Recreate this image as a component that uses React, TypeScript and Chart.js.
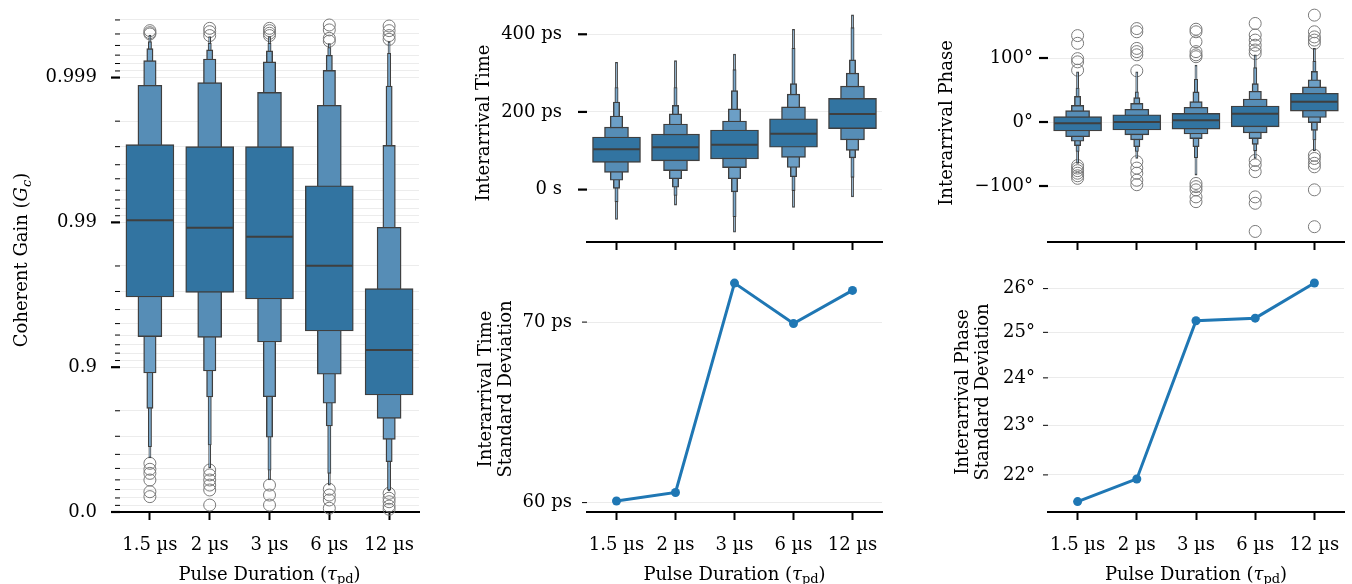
import React, { useEffect, useRef } from 'react';
import { Chart, registerables } from 'chart.js';

Chart.register(...registerables);

const FONT_FAMILY = '"DejaVu Serif", serif';
const FS = 18;
Chart.defaults.font.family = FONT_FAMILY;

// ---------------- data ----------------
const categories = ['1.5 µs', '2 µs', '3 µs', '6 µs', '12 µs'];

// Coherent gain expressed in "nines": n = -log10(1 - G)
// letter-value boxes, level 1 (widest) first; one [low, high] pair per category
const gainLetterValues: [number, number][][] = [
  [[1.485, 2.537], [1.517, 2.523], [1.471, 2.523], [1.25, 2.253], [0.808, 1.542]],
  [[1.211, 2.947], [1.206, 2.965], [1.174, 2.898], [0.951, 2.809], [0.647, 1.966]],
  [[0.96, 3.117], [0.974, 3.128], [0.796, 3.108], [0.751, 3.05], [0.502, 2.532]],
  [[0.716, 3.2], [0.794, 3.191], [0.516, 3.184], [0.594, 3.154], [0.347, 2.942]],
  [[0.451, 3.248], [0.463, 3.237], [0.288, 3.237], [0.267, 3.207], [0.152, 3.168]],
  [[0.373, 3.294], [0.304, 3.283], [0.221, 3.283], [0.186, 3.235], [0.145, 3.248]],
];
const gainMedians = [2.015, 1.963, 1.901, 1.701, 1.119];
const gainOutliers = [
  [3.324, 3.31, 3.301, 0.336, 0.295, 0.267, 0.221, 0.14, 0.106],
  [3.34, 3.317, 3.29, 0.29, 0.256, 0.221, 0.186, 0.152, 0.048],
  [3.34, 3.324, 3.306, 3.29, 0.186, 0.117, 0.048],
  [3.363, 3.329, 3.271, 3.252, 0.157, 0.117, 0.083, 0.026],
  [3.356, 3.324, 3.29, 3.264, 0.129, 0.095, 0.071, 0.041, 0.019],
];
const gainMajorTicks = [0, 1, 2, 3];
const gainTickLabels = ['0.0', '0.9', '0.99', '0.999'];

// Interarrival time (ps)
const timeLetterValues: [number, number][][] = [
  [[70, 135.5], [74, 143], [79, 153.5], [109, 182.5], [157, 235]],
  [[44.5, 161], [49, 169], [56.6, 176.6], [83, 213], [128, 266.6]],
  [[24, 189.5], [28, 195], [28, 208], [57, 246], [101, 300]],
  [[3.3, 225.5], [6, 217], [-6, 255], [33, 273], [81.5, 334]],
  [[-31.6, 263], [-15, 263], [-70, 309], [-2.6, 364], [31.6, 417]],
  [[-77, 328], [-40, 332], [-110, 349], [-46, 413], [-19, 450]],
];
const timeMedians = [103.6, 109, 115.7, 144, 194.6];
const timeTicks = [0, 200, 400];
const timeTickLabels = ['0 s', '200 ps', '400 ps'];

// Interarrival phase (degrees)
const phaseLetterValues: [number, number][][] = [
  [[-14, 8.3], [-12.5, 11.4], [-11, 13.5], [-7.5, 25], [17, 45]],
  [[-23, 17.7], [-20, 20], [-18.7, 23], [-17, 36], [7, 55]],
  [[-30, 26], [-28, 29], [-26, 31.8], [-26, 48], [-1, 66]],
  [[-37, 40], [-38.6, 38], [-38.6, 47], [-35, 60], [-13, 79]],
  [[-46, 53], [-46, 47], [-55.7, 66.7], [-45, 85], [-28, 95]],
  [[-64.6, 78.6], [-57, 78.6], [-83, 89], [-57, 105], [-45, 115]],
];
const phaseMedians = [-2, 0, 2.6, 13, 31.6];
const phaseOutliers = [
  [135, 123, 99, 94, 81, -68, -72, -76, -80, -84, -88],
  [146, 141, 115, 110, 105, 80, -62, -72, -80, -91, -98],
  [145, 141, 125.5, 110, 105, 102, -96, -101, -106, -117, -124.5],
  [154, 136, 128, 120, 112.5, 107, -60, -67, -77.6, -117, -127, -171],
  [167, 141, 133, 128, 123, -52, -57, -64.5, -70, -106, -163.6],
];
const phaseTicks = [-100, 0, 100];
const phaseTickLabels = ['−100°', '0°', '100°'];

// Standard deviations
const timeStd = [60.08, 60.52, 72.37, 69.91, 71.92];
const timeStdTicks = [60, 70];
const timeStdTickLabels = ['60 ps', '70 ps'];
const phaseStd = [21.48, 21.92, 25.26, 25.32, 26.13];
const phaseStdTicks = [22, 23, 24, 25, 26];
const phaseStdTickLabels = ['22°', '23°', '24°', '25°', '26°'];

// ---------------- styling ----------------
const BOX_WIDTHS = [48, 24, 12.5, 6.3, 3.3, 2.2];
const BOX_FILLS = ['#3274a1', '#568db6', '#6c9fc6', '#74a5ca', '#7aa9cd', '#7eacd0'];
const EDGE = '#3f3f3f';
const LINE_BLUE = '#1f77b4';

type Seg = { t: string; italic?: boolean; sub?: boolean };

function drawRich(ctx: CanvasRenderingContext2D, segs: Seg[], x: number, y: number, rotated: boolean) {
  ctx.save();
  ctx.translate(x, y);
  if (rotated) ctx.rotate(-Math.PI / 2);
  const fontFor = (s: Seg) => `${s.italic ? 'italic ' : ''}${s.sub ? Math.round(FS * 0.7) : FS}px ${FONT_FAMILY}`;
  let total = 0;
  for (const s of segs) {
    ctx.font = fontFor(s);
    total += ctx.measureText(s.t).width;
  }
  let cx = -total / 2;
  ctx.textAlign = 'left';
  ctx.textBaseline = 'alphabetic';
  ctx.fillStyle = '#000';
  for (const s of segs) {
    ctx.font = fontFor(s);
    ctx.fillText(s.t, cx, s.sub ? FS * 0.22 : 0);
    cx += ctx.measureText(s.t).width;
  }
  ctx.restore();
}

const pulseTitle: Seg[] = [{ t: 'Pulse Duration (' }, { t: 'τ', italic: true }, { t: 'pd', sub: true }, { t: ')' }];
const gainTitle: Seg[] = [{ t: 'Coherent Gain (' }, { t: 'G', italic: true }, { t: 'c', italic: true, sub: true }, { t: ')' }];

type TickMark = { value: number; len: number; width: number };

type Geo = {
  left: number; top: number; width: number; height: number;
  yW: number; xH: number; padTop: number; padRight: number;
};

function overlayPlugin(o: {
  marks: TickMark[];
  yTitle: Seg[][];
  yTitleX: number[];
  yTitleShift?: number;
  xTitleY?: number;
  spineExtend?: number;
}) {
  return {
    id: 'overlay',
    afterDraw(chart: any) {
      const { ctx, chartArea, scales } = chart;
      const ys = scales.y;
      ctx.save();
      ctx.strokeStyle = '#000';
      for (const m of o.marks) {
        const py = ys.getPixelForValue(m.value);
        ctx.lineWidth = m.width;
        ctx.beginPath();
        ctx.moveTo(chartArea.left - m.len, py);
        ctx.lineTo(chartArea.left, py);
        ctx.stroke();
      }
      if (o.spineExtend) {
        ctx.lineWidth = 2;
        ctx.beginPath();
        ctx.moveTo(chartArea.left - o.spineExtend, chartArea.bottom);
        ctx.lineTo(chartArea.left, chartArea.bottom);
        ctx.stroke();
      }
      ctx.restore();
      const cy = (chartArea.top + chartArea.bottom) / 2 + (o.yTitleShift || 0);
      o.yTitle.forEach((line, i) => drawRich(ctx, line, o.yTitleX[i], cy, true));
      if (o.xTitleY !== undefined) {
        drawRich(ctx, pulseTitle, (chartArea.left + chartArea.right) / 2, o.xTitleY, false);
      }
    },
  };
}

function yScale(g: Geo, opts: {
  type: 'linear' | 'logarithmic'; min: number; max: number; ticks: number[];
  label: (v: number) => string; pad: number; onTop: boolean;
}) {
  return {
    type: opts.type,
    position: 'left',
    min: opts.min,
    max: opts.max,
    z: opts.onTop ? 1 : 0,
    border: { display: false },
    grid: { color: opts.onTop ? 'rgba(140,140,140,0.17)' : '#ebebeb', lineWidth: 1, drawTicks: false },
    ticks: {
      color: '#000',
      font: { family: FONT_FAMILY, size: FS },
      padding: opts.pad,
      autoSkip: false,
      callback: (v: number) => opts.label(v),
    },
    afterBuildTicks: (s: any) => {
      s.ticks = opts.ticks.map((v) => ({ value: v }));
    },
    afterFit: (s: any) => {
      s.width = g.yW;
      s.paddingTop = 0; s.paddingBottom = 0; s.paddingLeft = 0; s.paddingRight = 0;
    },
  };
}

function baseOptions(g: Geo, y: any, showXLabels: boolean) {
  return {
    animation: false,
    responsive: false,
    maintainAspectRatio: false,
    events: [],
    layout: { autoPadding: false, padding: { left: 0, right: g.padRight, top: g.padTop, bottom: 0 } },
    plugins: { legend: { display: false }, tooltip: { enabled: false } },
    scales: {
      x: {
        type: 'category',
        offset: true,
        grid: { display: true, offset: false, drawOnChartArea: false, drawTicks: true, tickLength: 8, tickWidth: 2, tickColor: '#000' },
        border: { display: true, color: '#000', width: 2 },
        ticks: {
          display: showXLabels, color: '#000', font: { family: FONT_FAMILY, size: FS },
          padding: 15, autoSkip: false, maxRotation: 0, minRotation: 0,
        },
        afterFit: (s: any) => {
          s.height = g.xH;
          s.paddingTop = 0; s.paddingBottom = 0; s.paddingLeft = 0; s.paddingRight = 0;
        },
      },
      y,
    },
  };
}

function boxenDatasets(levels: [number, number][][], medians: number[], outliers?: number[][]) {
  const ds: any[] = [];
  ds.push({
    type: 'line', data: medians, showLine: false, pointStyle: 'line',
    pointRadius: BOX_WIDTHS[0] / 2 - 0.6, pointBorderWidth: 2, pointBorderColor: EDGE,
    pointBackgroundColor: EDGE, order: 0,
  });
  levels.forEach((lv, k) => {
    ds.push({
      type: 'bar', data: lv, backgroundColor: BOX_FILLS[k], borderColor: EDGE,
      borderWidth: k >= 4 ? 1.1 : 1.4, borderSkipped: false, barThickness: BOX_WIDTHS[k],
      grouped: false, order: k + 1,
    });
  });
  if (outliers) {
    ds.push({
      type: 'line',
      data: outliers.flatMap((vals, i) => vals.map((v) => ({ x: categories[i], y: v }))),
      showLine: false, pointStyle: 'circle', pointRadius: 6, pointBorderWidth: 1,
      pointBorderColor: '#7a7a7a', pointBackgroundColor: 'rgba(0,0,0,0)', order: 20, clip: false,
    });
  }
  return ds;
}

function gainMinorTicks(max: number) {
  const out: number[] = [];
  for (let d = 0; d <= 3; d++) {
    for (let k = 1; k <= 8; k++) {
      const n = d - Math.log10(1 - k / 10);
      if (n < max) out.push(n);
    }
  }
  return out;
}

const GAIN_MAX = 3.508;

type Spec = { geo: Geo; build: () => any };

const geoA: Geo = { left: 0, top: 0, width: 440, height: 584, yW: 120, xH: 72, padTop: 4, padRight: 21 };
const geoB: Geo = { left: 450, top: 0, width: 440, height: 252, yW: 137, xH: 10, padTop: 4, padRight: 8 };
const geoC: Geo = { left: 450, top: 262, width: 440, height: 322, yW: 137, xH: 72, padTop: 10, padRight: 8 };
const geoD: Geo = { left: 910, top: 0, width: 442, height: 252, yW: 138, xH: 10, padTop: 4, padRight: 8 };
const geoE: Geo = { left: 910, top: 262, width: 442, height: 322, yW: 138, xH: 72, padTop: 10, padRight: 8 };

const SPECS: Spec[] = [
  {
    geo: geoA,
    build: () => {
      const minors = gainMinorTicks(GAIN_MAX);
      const all = [...gainMajorTicks, ...minors].sort((a, b) => a - b);
      return {
        type: 'bar',
        data: { labels: categories, datasets: boxenDatasets(gainLetterValues, gainMedians, gainOutliers) },
        options: baseOptions(geoA, yScale(geoA, {
          type: 'linear', min: 0, max: GAIN_MAX, ticks: all, pad: 23, onTop: true,
          label: (v) => { const i = gainMajorTicks.indexOf(v); return i >= 0 ? gainTickLabels[i] : ''; },
        }), true),
        plugins: [overlayPlugin({
          marks: [
            ...gainMajorTicks.map((v) => ({ value: v, len: 9, width: 2.2 })),
            ...minors.map((v) => ({ value: v, len: 5, width: 1 })),
          ],
          yTitle: [gainTitle], yTitleX: [27], yTitleShift: 2, xTitleY: 579.5, spineExtend: 7,
        })],
      };
    },
  },
  {
    geo: geoB,
    build: () => ({
      type: 'bar',
      data: { labels: categories, datasets: boxenDatasets(timeLetterValues, timeMedians) },
      options: baseOptions(geoB, yScale(geoB, {
        type: 'linear', min: -135, max: 478, ticks: timeTicks, pad: 25, onTop: true,
        label: (v) => timeTickLabels[timeTicks.indexOf(v)] ?? '',
      }), false),
      plugins: [overlayPlugin({
        marks: timeTicks.map((v) => ({ value: v, len: 9, width: 2.2 })),
        yTitle: [[{ t: 'Interarrival Time' }]], yTitleX: [39],
      })],
    }),
  },
  {
    geo: geoC,
    build: () => ({
      type: 'line',
      data: {
        labels: categories,
        datasets: [{
          data: timeStd, borderColor: LINE_BLUE, borderWidth: 3, pointRadius: 4.5,
          pointBackgroundColor: LINE_BLUE, pointBorderWidth: 0, tension: 0, clip: false,
        }],
      },
      options: baseOptions(geoC, yScale(geoC, {
        type: 'logarithmic', min: 59.52, max: 73.06, ticks: timeStdTicks, pad: 15, onTop: false,
        label: (v) => timeStdTickLabels[timeStdTicks.indexOf(v)] ?? '',
      }), true),
      plugins: [overlayPlugin({
        marks: timeStdTicks.map((v) => ({ value: v, len: 5, width: 1 })),
        yTitle: [[{ t: 'Interarrival Time' }], [{ t: 'Standard Deviation' }]],
        yTitleX: [40.5, 61], yTitleShift: -3, xTitleY: 317.5,
      })],
    }),
  },
  {
    geo: geoD,
    build: () => ({
      type: 'bar',
      data: { labels: categories, datasets: boxenDatasets(phaseLetterValues, phaseMedians, phaseOutliers) },
      options: baseOptions(geoD, yScale(geoD, {
        type: 'linear', min: -187.5, max: 184.4, ticks: phaseTicks, pad: 15, onTop: true,
        label: (v) => phaseTickLabels[phaseTicks.indexOf(v)] ?? '',
      }), false),
      plugins: [overlayPlugin({
        marks: phaseTicks.map((v) => ({ value: v, len: 9, width: 2.2 })),
        yTitle: [[{ t: 'Interarrival Phase' }]], yTitleX: [41.5],
      })],
    }),
  },
  {
    geo: geoE,
    build: () => ({
      type: 'line',
      data: {
        labels: categories,
        datasets: [{
          data: phaseStd, borderColor: LINE_BLUE, borderWidth: 3, pointRadius: 4.5,
          pointBackgroundColor: LINE_BLUE, pointBorderWidth: 0, tension: 0, clip: false,
        }],
      },
      options: baseOptions(geoE, yScale(geoE, {
        type: 'logarithmic', min: 21.28, max: 26.39, ticks: phaseStdTicks, pad: 13, onTop: false,
        label: (v) => phaseStdTickLabels[phaseStdTicks.indexOf(v)] ?? '',
      }), true),
      plugins: [overlayPlugin({
        marks: phaseStdTicks.map((v) => ({ value: v, len: 5, width: 1 })),
        yTitle: [[{ t: 'Interarrival Phase' }], [{ t: 'Standard Deviation' }]],
        yTitleX: [58, 78], xTitleY: 317.5,
      })],
    }),
  },
];

export default function App() {
  const r0 = useRef<HTMLCanvasElement>(null);
  const r1 = useRef<HTMLCanvasElement>(null);
  const r2 = useRef<HTMLCanvasElement>(null);
  const r3 = useRef<HTMLCanvasElement>(null);
  const r4 = useRef<HTMLCanvasElement>(null);
  const refs = [r0, r1, r2, r3, r4];

  useEffect(() => {
    const charts = SPECS.map((s, i) => new Chart(refs[i].current as HTMLCanvasElement, s.build()));
    return () => charts.forEach((c) => c.destroy());
  }, []);

  return (
    <div style={{ position: 'absolute', left: 0, top: 0, width: 1352, height: 584, background: '#fff', overflow: 'hidden' }}>
      {SPECS.map((s, i) => (
        <canvas
          key={i}
          ref={refs[i]}
          width={s.geo.width}
          height={s.geo.height}
          style={{ position: 'absolute', left: s.geo.left, top: s.geo.top, width: s.geo.width, height: s.geo.height }}
        />
      ))}
    </div>
  );
}
